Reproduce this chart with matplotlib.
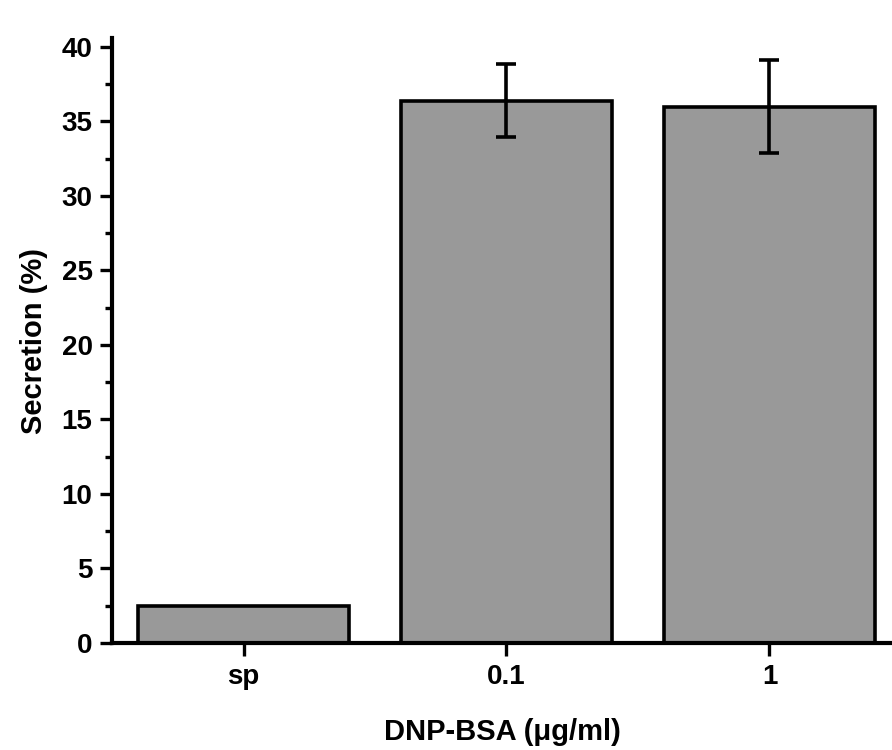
import matplotlib
matplotlib.use("Agg")
import matplotlib.pyplot as plt
from matplotlib.ticker import MultipleLocator

categories = ["sp", "0.1", "1"]
values = [2.5, 36.4, 36.0]
errors = [0.0, 2.45, 3.1]

plt.rcParams['font.family'] = ['Liberation Sans', 'DejaVu Sans']
plt.rcParams['font.weight'] = 'bold'

fig = plt.figure(figsize=(8.92, 7.5), dpi=100)
ax = fig.add_axes([0.1256, 0.1427, 0.8744, 0.8066])

x = range(len(categories))
ax.bar(x, values, width=0.8, color="#999999", edgecolor="black", linewidth=2.6, zorder=2)
for xi, v, e in zip(x, values, errors):
    if e > 0:
        ax.errorbar(xi, v, yerr=e, fmt="none", ecolor="black", elinewidth=2.6,
                    capsize=7, capthick=2.6, zorder=3)

ax.set_xlim(-0.5, 2.466)
ax.set_ylim(0, 40.6)
ax.set_xticks(list(x))
ax.set_xticklabels(categories)
ax.yaxis.set_major_locator(MultipleLocator(5))
ax.yaxis.set_minor_locator(MultipleLocator(2.5))

for s in ["top", "right"]:
    ax.spines[s].set_visible(False)
for s in ["left", "bottom"]:
    ax.spines[s].set_linewidth(3)

ax.tick_params(axis="both", which="major", direction="out", length=9, width=2.4,
               labelsize=20, pad=5)
ax.tick_params(axis="x", which="major", pad=6)
ax.tick_params(axis="y", which="minor", direction="out", length=5, width=2.4)
ax.tick_params(axis="x", which="minor", bottom=False)

for lbl in ax.get_xticklabels() + ax.get_yticklabels():
    lbl.set_fontweight("bold")

ax.set_ylabel("Secretion (%)", fontsize=21, fontweight="bold", labelpad=10)
ax.set_xlabel("DNP-BSA (\u03bcg/ml)", fontsize=21, fontweight="bold", labelpad=20)

fig.savefig("out.png", dpi=100)
